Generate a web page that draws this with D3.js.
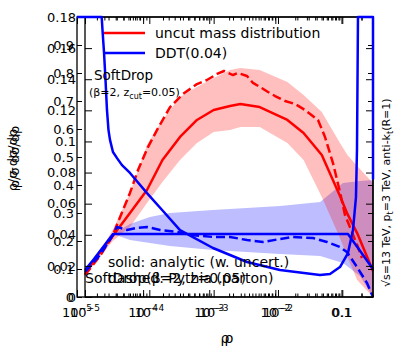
<!DOCTYPE html>
<html>
<head>
<meta charset="utf-8">
<script src="https://cdn.jsdelivr.net/npm/d3@7"></script>
<style>
  body { margin: 0; background: #fff; }
  svg text { font-family: "DejaVu Sans", sans-serif; fill: #000; }
</style>
</head>
<body>
<div id="chart"></div>
<script>
// ---- data ----

// analytic uncut mass distribution (red solid) and its uncertainty band
const rhoAnalytic = [1e-5, 1.7e-5, 2.7e-5, 5e-5, 9.2e-5, 1.6e-4, 3e-4, 5.5e-4, 1e-3, 1.8e-3, 2.6e-3, 5.2e-3, 0.014, 0.025, 0.048, 0.092, 0.12, 0.17, 0.3];
const uncutAnalytic = [0.0148, 0.0289, 0.0392, 0.054, 0.0688, 0.0881, 0.1029, 0.1138, 0.1202, 0.1228, 0.1241, 0.1221, 0.1138, 0.1054, 0.0913, 0.0649, 0.0534, 0.0411, 0.0167];
const uncutBandHi = [0.0154, 0.0296, 0.0431, 0.0669, 0.0977, 0.1138, 0.1286, 0.135, 0.1408, 0.1459, 0.1472, 0.1459, 0.1382, 0.1299, 0.1189, 0.099, 0.0913, 0.0842, 0.0733];
const uncutBandLo = [0.0135, 0.0257, 0.036, 0.045, 0.0604, 0.0739, 0.0881, 0.099, 0.1061, 0.1074, 0.1093, 0.1093, 0.099, 0.0881, 0.0643, 0.0379, 0.0257, 0.0109, 0];

// Pythia uncut (red dashed)
const rhoPythia = [1e-5, 1.71e-5, 2.63e-5, 5e-5, 6.67e-5, 9.53e-5, 1.32e-4, 2.1e-4, 3.34e-4, 5.51e-4, 7.88e-4, 1.13e-3, 1.45e-3, 2e-3, 2.39e-3, 3.3e-3, 4.09e-3, 5.25e-3, 7e-3, 9e-3, 0.0129, 0.0184, 0.0263, 0.0419, 0.0538, 0.0716, 0.092, 0.11, 0.141, 0.175, 0.202];
const uncutPythia = [0.0141, 0.0264, 0.0386, 0.0669, 0.0816, 0.0964, 0.1074, 0.1221, 0.1305, 0.1369, 0.1395, 0.1434, 0.1453, 0.1427, 0.144, 0.1421, 0.1376, 0.135, 0.1318, 0.1292, 0.126, 0.1241, 0.1202, 0.1138, 0.1029, 0.0861, 0.0675, 0.0527, 0.0418, 0.0321, 0.0251];

// DDT analytic (blue solid) and band
const rhoDDT = [1e-5, 1.38e-5, 1.97e-5, 2.73e-5, 0.1225, 0.3];
const ddtAnalytic = [0.0174, 0.0244, 0.0328, 0.0405, 0.0405, 0.018];
const rhoDDTBand = [2.73e-5, 5e-5, 1.02e-4, 2.09e-4, 9.76e-4, 0.0108, 0.0453, 0.1025, 0.188, 0.3];
const ddtBandHi = [0.0405, 0.0469, 0.0514, 0.054, 0.0559, 0.0585, 0.0611, 0.0733, 0.0746, 0.0752];
const ddtBandLo = [0.0405, 0.0366, 0.0347, 0.0328, 0.0302, 0.0276, 0.0264, 0.0219, 0.0135, 0];

// DDT Pythia (blue dashed)
const rhoDDTPythia = [1e-5, 1.71e-5, 2.73e-5, 3.14e-5, 4.5e-5, 6.43e-5, 9.2e-5, 1.47e-4, 2.69e-4, 4.29e-4, 9.76e-4, 1.8e-3, 3.3e-3, 5.85e-3, 0.0108, 0.0171, 0.035, 0.0578, 0.092, 0.118, 0.169, 0.242, 0.3];
const ddtPythia = [0.0161, 0.027, 0.0399, 0.045, 0.0431, 0.0444, 0.045, 0.0431, 0.0418, 0.0399, 0.0386, 0.0386, 0.0366, 0.0354, 0.0373, 0.0386, 0.0379, 0.0354, 0.0321, 0.0289, 0.0193, 0.009, 0];

// second (0..1) panel: SoftDrop curve that leaves the frame at both ends
const rhoSoftDrop = [1e-5, 2.363e-5, 2.43e-5, 2.56e-5, 2.7e-5, 2.84e-5, 2.995e-5, 3.155e-5, 3.5e-5, 4.03e-5, 4.79e-5, 6.33e-5, 1.145e-4, 2e-4, 3.61e-4, 1.14e-3, 3.73e-3, 0.01176, 0.0473, 0.0671, 0.095, 0.1255, 0.1494, 0.1658, 0.1717, 0.1778, 0.3, 0.3];
const softDropCurve = [1, 1, 0.954, 0.875, 0.775, 0.668, 0.596, 0.561, 0.518, 0.496, 0.471, 0.443, 0.371, 0.307, 0.239, 0.175, 0.125, 0.0964, 0.0786, 0.0821, 0.107, 0.157, 0.239, 0.357, 0.525, 1, 1, 0.42];

// ticks
const xMajor = [1e-5, 1e-4, 1e-3, 1e-2, 0.1];
const xMajorBase = ["10", "10", "10", "10", "0.1"];
const xMajorExp = ["\u22125", "\u22124", "\u22123", "\u22122", ""];
const yTicksA = [0, 0.02, 0.04, 0.06, 0.08, 0.1, 0.12, 0.14, 0.16, 0.18];
const yLabelsA = ["0", "0.02", "0.04", "0.06", "0.08", "0.1", "0.12", "0.14", "0.16", "0.18"];
const yTicksB = [0, 0.1, 0.2, 0.3, 0.4, 0.5, 0.6, 0.7, 0.8, 0.9, 1];
const yLabelsB = ["0", "0.1", "0.2", "0.3", "0.4", "0.5", "0.6", "0.7", "0.8", "0.9", ""];

// ---- layout ----
const W = 399, H = 349;
const plotTop = 17, plotBottom = 297, plotRight = 373;
const RED = "#ff0000", BLUE = "#0000ff";

// log minor ticks 2..9 per decade
const xMinor = [];
[-5, -4, -3, -2, -1].forEach(e => {
    for (let m = 2; m <= 9; m++) {
        let v = m * Math.pow(10, e);
        if (v <= 0.3) xMinor.push(v);
    }
});

const svg = d3.select("#chart").append("svg")
    .attr("width", W)
    .attr("height", H);

class OverlayAxes {
    constructor(svg, left, yMax, opts) {
        this.svg = svg;
        this.left = left;
        this.opts = opts;
        this.x = d3.scaleLog().domain([1e-5, 0.3]).range([left, plotRight]);
        this.y = d3.scaleLinear().domain([0, yMax]).range([plotBottom, plotTop]);
    }

    drawBand(xs, lo, hi, color, opacity) {
        let ax = this;
        let pts = xs.map((d, i) => ({ x: d, lo: lo[i], hi: hi[i] }));
        ax.svg.append("path")
            .datum(pts)
            .attr("fill", color)
            .attr("fill-opacity", opacity)
            .attr("stroke", "none")
            .attr("d", d3.area().x(d => ax.x(d.x)).y0(d => ax.y(d.lo)).y1(d => ax.y(d.hi)));
    }

    drawLine(xs, ys, color, dash) {
        let ax = this;
        let pts = xs.map((d, i) => [d, ys[i]]);
        ax.svg.append("path")
            .datum(pts)
            .attr("fill", "none")
            .attr("stroke", color)
            .attr("stroke-width", 2.5)
            .attr("stroke-linejoin", "round")
            .attr("stroke-dasharray", dash || null)
            .attr("d", d3.line().x(d => ax.x(d[0])).y(d => ax.y(d[1])));
    }

    drawFrame() {
        let ax = this, o = ax.opts;
        let g = ax.svg.append("g").attr("class", "axis");

        // y ticks (inward) with labels on the left, bare ticks on the right
        g.append("g")
            .attr("transform", `translate(${ax.left},0)`)
            .call(d3.axisLeft(ax.y).tickValues(o.yTicks).tickSize(-o.yTickLen)
                .tickPadding(o.labelPad).tickFormat((d, i) => o.yLabels[i]));
        g.append("g")
            .attr("transform", `translate(${plotRight},0)`)
            .call(d3.axisRight(ax.y).tickValues(o.yTicks).tickSize(-o.yTickLen).tickFormat(() => ""));

        // x ticks bottom + top, major and minor
        g.append("g").attr("transform", `translate(0,${plotBottom})`)
            .call(d3.axisBottom(ax.x).tickValues(xMajor).tickSize(-7).tickFormat(() => ""));
        g.append("g").attr("transform", `translate(0,${plotBottom})`)
            .call(d3.axisBottom(ax.x).tickValues(xMinor).tickSize(-3.5).tickFormat(() => ""));
        g.append("g").attr("transform", `translate(0,${plotTop})`)
            .call(d3.axisTop(ax.x).tickValues(xMajor).tickSize(-7).tickFormat(() => ""));
        g.append("g").attr("transform", `translate(0,${plotTop})`)
            .call(d3.axisTop(ax.x).tickValues(xMinor).tickSize(-3.5).tickFormat(() => ""));

        g.selectAll(".domain").remove();
        g.selectAll(".tick line").attr("stroke", "#000").attr("stroke-width", 1);
        g.selectAll("g").attr("font-family", "DejaVu Sans").attr("font-size", 13);

        // box
        g.append("rect")
            .attr("x", ax.left)
            .attr("y", plotTop)
            .attr("width", plotRight - ax.left)
            .attr("height", plotBottom - plotTop)
            .attr("fill", "none")
            .attr("stroke", "#000")
            .attr("stroke-width", 1.3);

        // x tick labels, "10" with superscript exponent
        let lab = g.selectAll(".xlab")
            .data(xMajor)
            .enter()
            .append("text")
            .attr("class", "xlab")
            .attr("x", d => ax.x(d))
            .attr("y", 317)
            .attr("text-anchor", "middle")
            .style("font-size", "13px");
        lab.append("tspan").text((d, i) => xMajorBase[i]);
        lab.append("tspan")
            .attr("dy", -6)
            .style("font-size", "9px")
            .text((d, i) => xMajorExp[i]);

        // axis titles
        ax.svg.append("text")
            .attr("x", (ax.left + plotRight) / 2)
            .attr("y", 343)
            .attr("text-anchor", "middle")
            .style("font-size", "14px")
            .text("\u03c1");
        ax.svg.append("text")
            .attr("transform", `translate(${o.yTitleX},${(plotTop + plotBottom) / 2 + o.yTitleShift}) rotate(-90)`)
            .attr("text-anchor", "middle")
            .style("font-size", "13px")
            .text(o.yTitle);
    }
}

// panel with 0..1 y range (left edge further left), panel with 0..0.18
let axB = new OverlayAxes(svg, 77, 1, {
    yTicks: yTicksB, yLabels: yLabelsB, yTickLen: 5, labelPad: 3,
    yTitle: "\u03c1/\u03c3 d\u03c3/d\u03c1", yTitleX: 19, yTitleShift: 0
});
let axA = new OverlayAxes(svg, 85, 0.18, {
    yTicks: yTicksA, yLabels: yLabelsA, yTickLen: 7, labelPad: 9,
    yTitle: "\u03c1/\u03c3 d\u03c3/d\u03c1", yTitleX: 17, yTitleShift: 3
});

// bands
axA.drawBand(rhoDDTBand, ddtBandLo, ddtBandHi, BLUE, 0.26);
axA.drawBand(rhoAnalytic, uncutBandLo, uncutBandHi, RED, 0.25);

// curves
axA.drawLine(rhoAnalytic, uncutAnalytic, RED);
axA.drawLine(rhoPythia, uncutPythia, RED, "9,4");
axA.drawLine(rhoDDT, ddtAnalytic, BLUE);
axA.drawLine(rhoDDTPythia, ddtPythia, BLUE, "9,4");

axB.drawFrame();
axA.drawFrame();

axB.drawLine(rhoSoftDrop, softDropCurve, BLUE);

// legend
const legend = [
    { label: "uncut mass distribution", color: RED, y: 33 },
    { label: "DDT(0.04)", color: BLUE, y: 53 }
];
let lg = svg.selectAll(".legend").data(legend).enter().append("g").attr("class", "legend");
lg.append("line")
    .attr("x1", 104).attr("x2", 145)
    .attr("y1", d => d.y).attr("y2", d => d.y)
    .attr("stroke", d => d.color)
    .attr("stroke-width", 2.5);
lg.append("text")
    .attr("x", 155)
    .attr("y", d => d.y)
    .attr("dy", "0.36em")
    .style("font-size", "14px")
    .text(d => d.label);

// annotations
svg.append("text").attr("x", 94).attr("y", 80).style("font-size", "13.5px").text("SoftDrop");
let sd = svg.append("text").attr("x", 89).attr("y", 96).style("font-size", "11px");
sd.append("tspan").text("(\u03b2=2, z");
sd.append("tspan").attr("dy", 3).style("font-size", "8px").text("cut");
sd.append("tspan").attr("dy", -3).text("=0.05)");

svg.append("text").attr("x", 108).attr("y", 267).style("font-size", "14px").text("solid: analytic (w. uncert.)");
svg.append("text").attr("x", 108).attr("y", 283).style("font-size", "14px").text("dashed: Pythia (parton)");
svg.append("text").attr("x", 85).attr("y", 283).style("font-size", "14px").text("SoftDrop(\u03b2=2, z=0.05)");

let side = svg.append("text")
    .attr("transform", "translate(390,287) rotate(-90)")
    .style("font-size", "11px");
side.append("tspan").text("\u221as=13 TeV, p");
side.append("tspan").attr("dy", 2.5).style("font-size", "8px").text("t");
side.append("tspan").attr("dy", -2.5).text("=3 TeV, anti-k");
side.append("tspan").attr("dy", 2.5).style("font-size", "8px").text("t");
side.append("tspan").attr("dy", -2.5).text("(R=1)");
</script>
</body>
</html>
